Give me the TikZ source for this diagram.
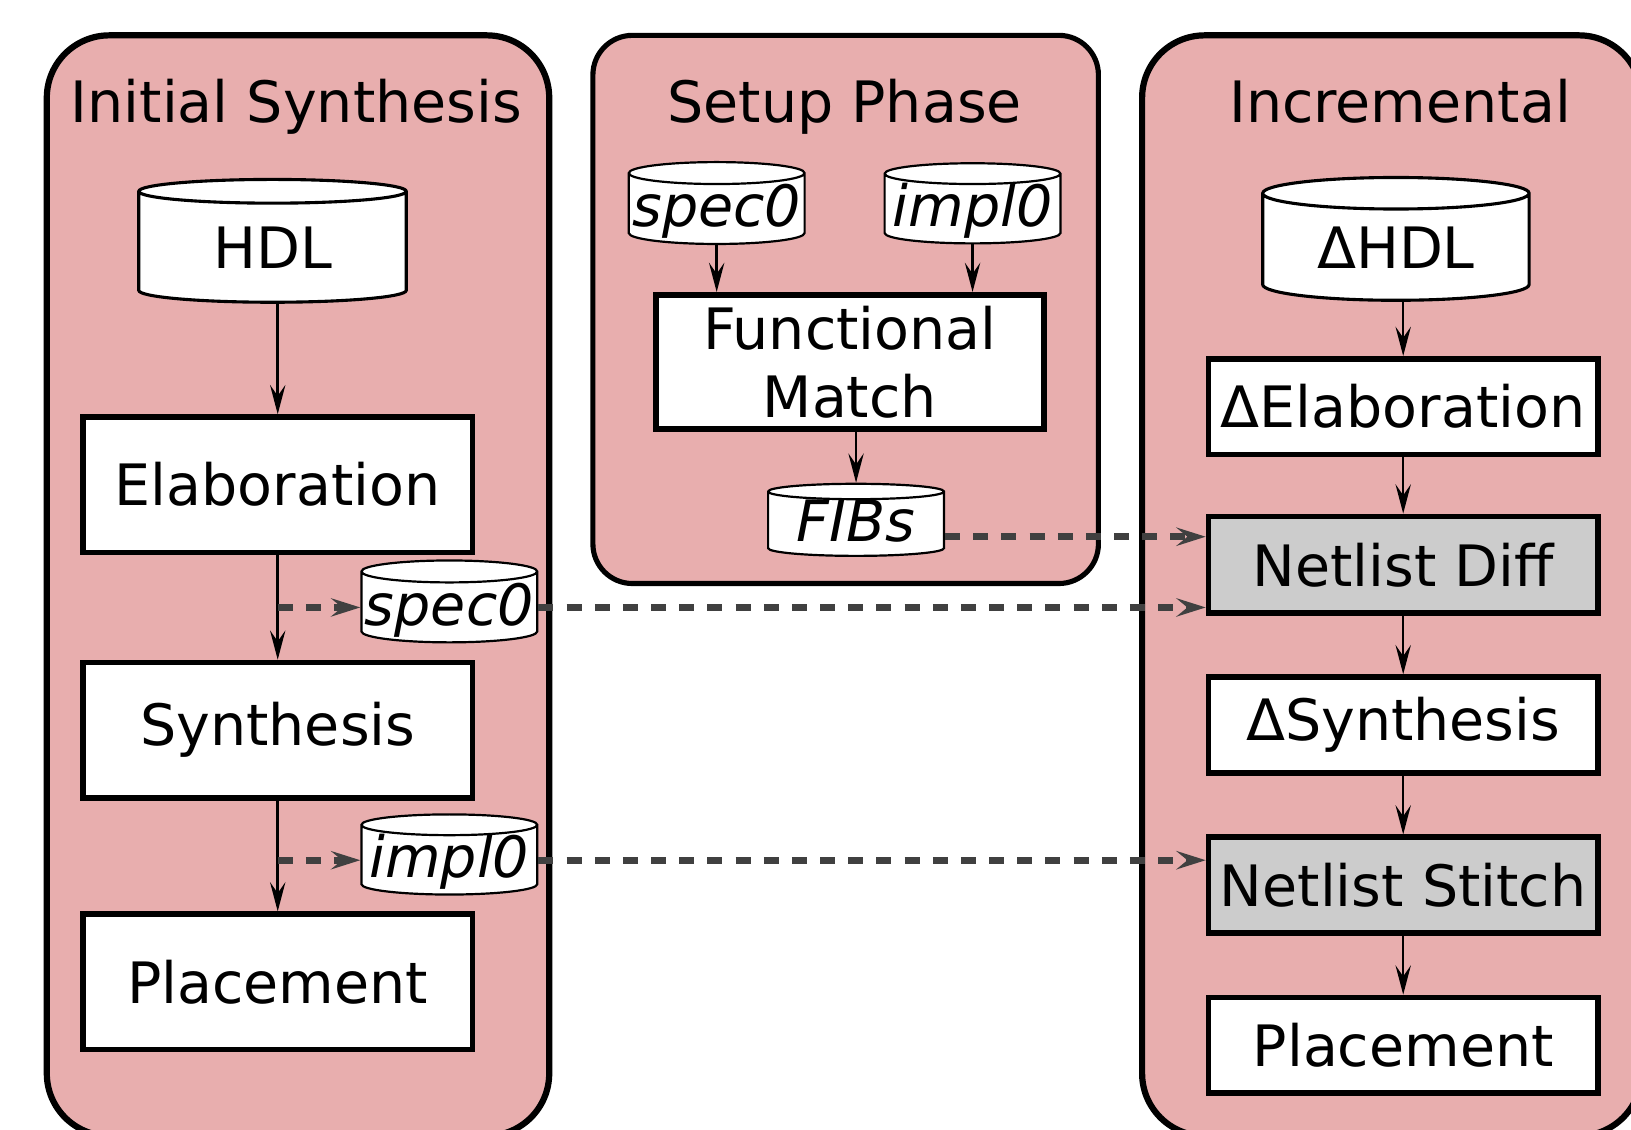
\documentclass[tikz,border=0pt]{standalone}
\usepackage{fontspec}
\setmainfont{DejaVu Sans}
\usetikzlibrary{shapes.geometric,arrows.meta}

\definecolor{phasepink}{RGB}{232,174,174}
\definecolor{stepgray}{RGB}{204,204,204}
\definecolor{dataline}{RGB}{64,64,64}

\begin{document}
\begin{tikzpicture}[x = 0.01cm, y = -0.01cm, font = \fontsize{15.6}{18.5}\selectfont]
\tikzstyle{PhaseStyle} = [draw, line width = 1.7pt, fill = phasepink]
\tikzstyle{TitleStyle} = [anchor = base, inner sep = 0pt]
\tikzstyle{BoxStyle} = [draw, line width = 1.55pt, fill = white, minimum width = 3.74cm, inner sep = 0pt, align = center]
\tikzstyle{StoreStyle} = [cylinder, shape border rotate = 90, draw, fill = white, inner sep = 0pt, aspect = 0.13, line width = 0.6pt, minimum width = 1.69cm, text height = 0.4cm, text depth = 0.06cm]
\tikzstyle{BigStoreStyle} = [cylinder, shape border rotate = 90, draw, fill = white, inner sep = 0pt, aspect = 0.2, line width = 0.85pt, minimum width = 2.57cm, minimum height = 1.18cm]
\tikzstyle{FlowStyle} = [line width = 0.7pt, -{Stealth[length = 8pt, width = 4.2pt, inset = 3pt]}]
\tikzstyle{DataStyle} = [dataline, line width = 1.8pt, dash pattern = on 4.1pt off 3.6pt, -{Stealth[length = 8pt, width = 5pt, inset = 3pt]}]
\useasboundingbox (0,0) rectangle (1568,1086);
\clip (0,0) rectangle (1568,1086);
% phases
\draw[PhaseStyle, rounded corners = 0.6cm] (45,34) rectangle (528,1092);
\draw[PhaseStyle, line width = 1.4pt, rounded corners = 0.38cm] (570,34) rectangle (1056,561);
\draw[PhaseStyle, rounded corners = 0.6cm] (1098,34) rectangle (1578,1092);
\node[TitleStyle] (title0) at (285,118) {Initial Synthesis};
\node[TitleStyle] (title1) at (812,118) {Setup Phase};
\node[TitleStyle] (title2) at (1346,118) {Incremental};
% initial synthesis
\node[BigStoreStyle] (hdl) at (262,238) {HDL};
\node[BoxStyle, minimum height = 1.3cm] (elab) at (267,466) {Elaboration};
\node[StoreStyle] (spec0l) at (432,584) {\itshape spec0};
\node[BoxStyle, minimum height = 1.3cm] (synth) at (267,702) {Synthesis};
\node[StoreStyle] (impl0l) at (432,827) {\itshape impl0};
\node[BoxStyle, minimum height = 1.3cm] (place) at (267,944) {Placement};
% setup phase
\node[StoreStyle] (spec0s) at (689,201) {\itshape spec0};
\node[StoreStyle] (impl0s) at (935,201) {\itshape impl0};
\node[BoxStyle, minimum width = 3.73cm, minimum height = 1.29cm] (fmatch) at (817,348) {Functional\\Match};
\node[StoreStyle] (fibs) at (823,504) {\itshape FIBs};
% incremental
\node[BigStoreStyle, minimum width = 2.56cm] (dhdl) at (1342,238) {ΔHDL};
\node[BoxStyle, minimum height = 0.92cm] (delab) at (1349,391) {ΔElaboration};
\node[BoxStyle, minimum height = 0.93cm, fill = stepgray] (ndiff) at (1349,543) {Netlist Diff};
\node[BoxStyle, minimum height = 0.92cm] (dsynth) at (1349,697) {ΔSynthesis};
\node[BoxStyle, minimum height = 0.92cm, fill = stepgray] (stitch) at (1349,851) {Netlist Stitch};
\node[BoxStyle, minimum height = 0.92cm] (dplace) at (1349,1005) {Placement};
\coordinate (tap0) at (elab.south |- spec0l.west);
\coordinate (tap1) at (synth.south |- impl0l.west);
% flow
\draw[FlowStyle] (hdl.south -| elab.north) -- (elab.north);
\draw[FlowStyle] (elab) -- (synth);
\draw[FlowStyle] (synth) -- (place);
\draw[FlowStyle] (spec0s.south) -- (spec0s.south |- fmatch.north);
\draw[FlowStyle] (impl0s.south) -- (impl0s.south |- fmatch.north);
\draw[FlowStyle] (fibs.north |- fmatch.south) -- (fibs.north);
\draw[FlowStyle] (dhdl.south -| delab.north) -- (delab.north);
\draw[FlowStyle] (delab) -- (ndiff);
\draw[FlowStyle] (ndiff) -- (dsynth);
\draw[FlowStyle] (dsynth) -- (stitch);
\draw[FlowStyle] (stitch) -- (dplace);
% data
\draw[DataStyle] (tap0) -- (spec0l.west);
\draw[DataStyle] (tap1) -- (impl0l.west);
\draw[DataStyle] (spec0l.east) -- (spec0l.east -| ndiff.west);
\draw[DataStyle] (impl0l.east) -- (impl0l.east -| stitch.west);
\draw[DataStyle] ([yshift = -0.12cm]fibs.east) -- ([yshift = -0.12cm]fibs.east -| ndiff.west);
\end{tikzpicture}
\end{document}
